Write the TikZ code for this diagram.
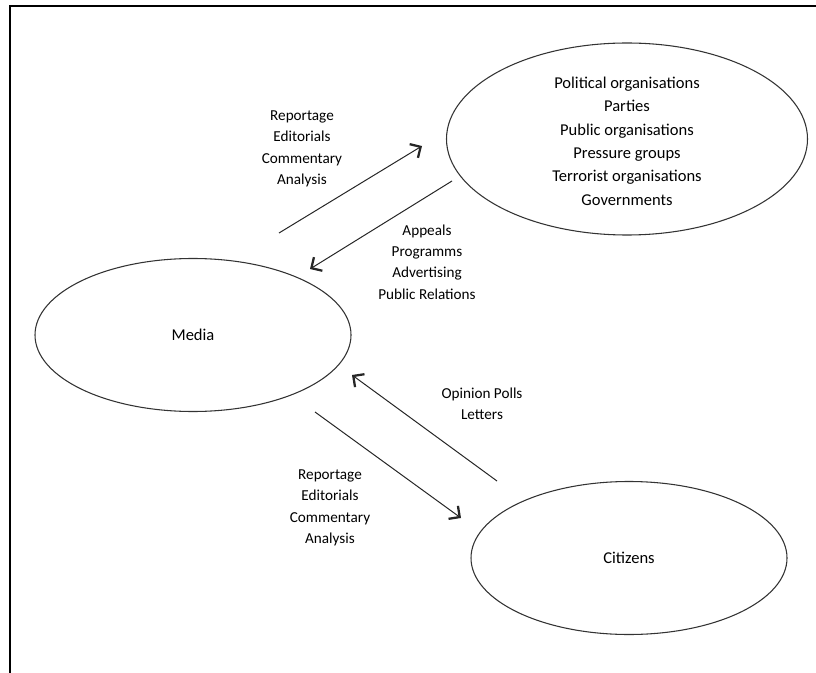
\documentclass[tikz,border=0pt]{standalone}
\usepackage{fontspec}
\setmainfont{Carlito}
\usetikzlibrary{arrows.meta,shapes.geometric}

\begin{document}
\begin{tikzpicture}[
    x=0.75pt, y=-0.75pt,
    entity/.style={draw=black!80, line width=0.8pt, ellipse, inner sep=0pt, font=\fontsize{12.4}{17.5}\selectfont},
    inside/.style={align=center, inner sep=0pt, font=\fontsize{12.4}{17.5}\selectfont},
    note/.style={align=center, inner sep=0pt, font=\fontsize{11.4}{16.1}\selectfont},
    flow/.style={draw=black!85, line width=0.75pt, -{Straight Barb[length=6pt,width=12pt,line width=1.7pt]}}
]
\useasboundingbox (0,0) rectangle (816,673);
\draw[line width=1.6pt] (10,673) -- (10,6) -- (816,6);

% the three groups
\node[entity, minimum width=270.75pt, minimum height=144pt] (orgs) at (627,139) {};
\node[inside] (orgstext) at (627,141) {Political organisations\\Parties\\Public organisations\\Pressure groups\\Terrorist organisations\\Governments};
\node[entity, minimum width=237pt, minimum height=114.75pt] (media) at (193,335) {Media};
\node[entity, minimum width=237pt, minimum height=114.75pt] (citizens) at (629,558) {Citizens};

% arrow ends
\coordinate (toorgsA) at (279,233);
\coordinate (toorgsB) at (422,146);
\coordinate (frorgsA) at (452,181);
\coordinate (frorgsB) at (310,269);
\coordinate (frcitA) at (497,481);
\coordinate (frcitB) at (352,375);
\coordinate (tocitA) at (315,412);
\coordinate (tocitB) at (461,518);

\draw[flow] (toorgsA) -- (toorgsB);
\draw[flow] (frorgsA) -- (frorgsB);
\draw[flow] (frcitA) -- (frcitB);
\draw[flow] (tocitA) -- (tocitB);

% what flows along them
\node[note] (reportup) at (302,149) {Reportage\\Editorials\\Commentary\\Analysis};
\node[note] (appeals) at (427,262) {Appeals\\Programms\\Advertising\\Public Relations};
\node[note] (polls) at (482,404) {Opinion Polls\\Letters};
\node[note] (reportdown) at (330,508) {Reportage\\Editorials\\Commentary\\Analysis};
\end{tikzpicture}
\end{document}
